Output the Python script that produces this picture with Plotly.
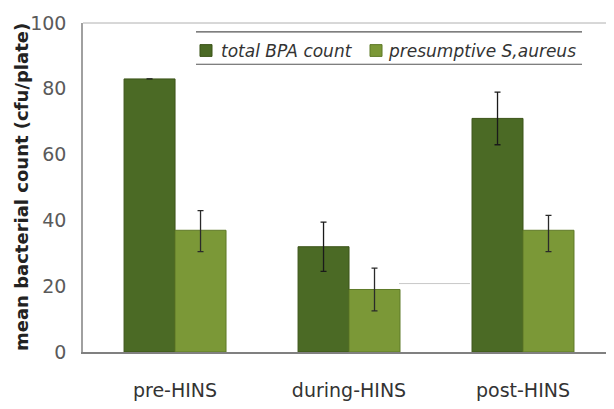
import plotly.graph_objects as go

categories = ["pre-HINS", "during-HINS", "post-HINS"]
total_bpa = [83, 32, 71]
total_bpa_err = [None, 7.5, 8]
s_aureus = [37, 19, 37]
s_aureus_err_plus = [6, 6.5, 4.5]
s_aureus_err_minus = [6.5, 6.5, 6.5]
y_ticks = [0, 20, 40, 60, 80, 100]
legend_names = ["total BPA count", "presumptive S,aureus"]
colors = ["#4b6a25", "#7b9837"]

FONT = "DejaVu Sans, Open Sans, sans-serif"

fig = go.Figure()
fig.add_trace(go.Bar(
    x=categories, y=total_bpa, name=legend_names[0],
    marker=dict(color=colors[0], line=dict(color="#3c5419", width=1)),
    error_y=dict(type="data", array=total_bpa_err, color="#1a1a1a", thickness=1.3, width=3),
))
fig.add_trace(go.Bar(
    x=categories, y=s_aureus, name=legend_names[1],
    marker=dict(color=colors[1], line=dict(color="#5f7a28", width=1)),
    error_y=dict(type="data", symmetric=False, array=s_aureus_err_plus,
                 arrayminus=s_aureus_err_minus, color="#2a2a2a", thickness=1.3, width=3),
))

# manual legend (swatches + italic labels between two rules)
shapes = [
    dict(type="line", xref="paper", yref="paper", x0=0, x1=1, y0=1, y1=1,
         line=dict(color="#b0b0b0", width=1)),
    dict(type="line", xref="paper", yref="paper", x0=0.2144, x1=0.9469, y0=0.9731, y1=0.9731,
         line=dict(color="#555555", width=1.2)),
    dict(type="line", xref="paper", yref="paper", x0=0.2144, x1=0.9469, y0=0.8746, y1=0.8746,
         line=dict(color="#555555", width=1.2)),
    dict(type="rect", xref="paper", yref="paper", x0=0.222, x1=0.2448, y0=0.8985, y1=0.9343,
         fillcolor=colors[0], line=dict(color="#3c5419", width=1)),
    dict(type="rect", xref="paper", yref="paper", x0=0.5446, x1=0.5674, y0=0.8985, y1=0.9343,
         fillcolor=colors[1], line=dict(color="#5f7a28", width=1)),
    dict(type="line", xref="paper", yref="y", x0=0.5996, x1=0.7343, y0=20.8, y1=20.8,
         line=dict(color="#c8c8c8", width=1)),
]
annotations = [
    dict(xref="paper", yref="paper", x=0.258, y=0.9164, xanchor="left", yanchor="middle",
         text="<i>" + legend_names[0] + "</i>", showarrow=False,
         font=dict(family=FONT, size=17, color="#333333")),
    dict(xref="paper", yref="paper", x=0.575, y=0.9164, xanchor="left", yanchor="middle",
         text="<i>" + legend_names[1] + "</i>", showarrow=False,
         font=dict(family=FONT, size=17, color="#333333")),
    dict(xref="paper", yref="paper", x=-0.1176, y=0.5015, xanchor="center", yanchor="middle",
         text="<b>mean bacterial count (cfu/plate)</b>", textangle=-90, showarrow=False,
         font=dict(family=FONT, size=18, color="#222222")),
]

fig.update_layout(
    width=606, height=401,
    margin=dict(l=75, r=4, t=9, b=57),
    paper_bgcolor="white", plot_bgcolor="white",
    barmode="group", bargap=0.414, bargroupgap=0,
    font=dict(family=FONT, color="#333333"),
    showlegend=False,
    xaxis=dict(
        range=[-0.529, 2.5], showline=True, linecolor="#808080", linewidth=2,
        ticks="", ticklabelstandoff=20, tickfont=dict(size=19, color="#333333"),
        showgrid=False,
    ),
    yaxis=dict(
        range=[0, 100], tickvals=y_ticks, showline=True, linecolor="#a0a0a0",
        linewidth=1.5, ticks="", ticklabelstandoff=11, ticklabeloverflow="allow",
        tickfont=dict(size=19, color="#5a5a5a"), showgrid=False, zeroline=False,
    ),
    shapes=shapes,
    annotations=annotations,
)

fig.write_html("out.html")
